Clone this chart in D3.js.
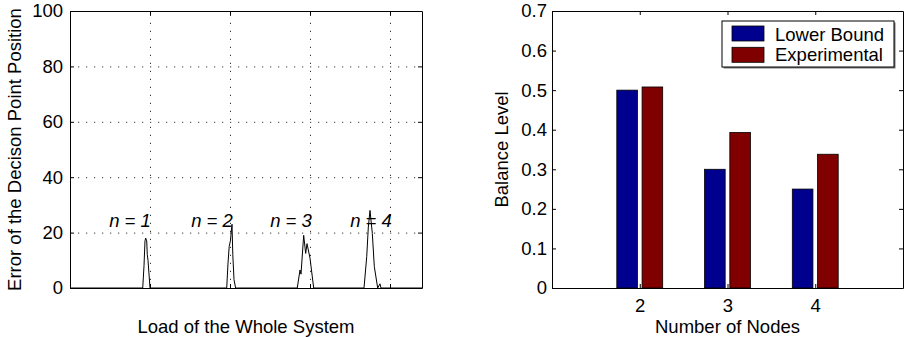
<!DOCTYPE html>
<html lang="en">
<head>
<meta charset="utf-8">
<script src="https://cdnjs.cloudflare.com/ajax/libs/d3/7.8.5/d3.min.js"></script>
<style>
    body { margin: 0; background: #fff; }
    svg text { font-family: "Liberation Sans", Arial, Helvetica, sans-serif; font-size: 18.5px; fill: #000; }
    .grid line { stroke: #000; stroke-dasharray: 1.2, 6.8; stroke-opacity: 0.8; }
    .grid path { display: none; }
    .frame path, .frame line { stroke: #000; }
</style>
</head>
<body>
<svg id="chart" width="906" height="337"></svg>
<script>
// ---- left panel: error of the decision point vs load ----
var loadValues = [0, 0.909, 0.925, 0.9375, 0.946, 0.959, 0.966, 0.975, 1.0,
                  1.959, 1.975, 1.99, 2.005, 2.025, 2.035, 2.05, 2.07, 2.096,
                  2.841, 2.875, 2.8875, 2.921, 2.946, 2.9625, 3.0, 3.046,
                  3.675, 3.709, 3.729, 3.75, 3.779, 3.804, 3.846, 3.875, 3.8875, 4.4];
var errorValues = [0, 0, 8, 17, 18, 17, 12, 10, 0,
                   0, 9, 15, 17, 23, 12, 3, 0, 0,
                   0, 6.5, 5, 19, 12.5, 16, 10.8, 0,
                   0, 11.3, 22, 28, 19.7, 7.7, 0, 1.5, 0, 0];
var peakLabels = ["n = 1", "n = 2", "n = 3", "n = 4"];
var peakLabelLoad = [0.75, 1.775, 2.7625, 3.7625];
var loadTicks = [1, 2, 3, 4];
var errorTicks = [0, 20, 40, 60, 80, 100];

// ---- right panel: balance level vs number of nodes ----
var nodes = [2, 3, 4];
var lowerBound = [0.5, 0.3, 0.25];
var experimental = [0.508, 0.393, 0.338];
var seriesNames = ["Lower Bound", "Experimental"];
var seriesColors = ["#00008f", "#800000"];
var balanceTicks = [0, 0.1, 0.2, 0.3, 0.4, 0.5, 0.6, 0.7];

var svg = d3.select("#chart");
var top_ = 11, bottom = 288;
var tick = 4;

// ========== left panel ==========
var xL = d3.scaleLinear().domain([0, 4.4]).range([70, 422]);
var yL = d3.scaleLinear().domain([0, 100]).range([bottom, top_]);
var left = svg.append("g");

// dotted grid
left.append("g").attr("class", "grid")
    .attr("transform", "translate(0," + bottom + ")")
    .call(d3.axisBottom(xL).tickValues(loadTicks).tickSize(-(bottom - top_)).tickFormat(""));
left.append("g").attr("class", "grid")
    .attr("transform", "translate(70,0)")
    .call(d3.axisLeft(yL).tickValues(errorTicks.slice(1, -1)).tickSize(-(422 - 70)).tickFormat(""));

// curve
var line = d3.line().x(function(d, i) { return xL(loadValues[i]); })
                    .y(function(d) { return yL(d); });
left.append("path")
    .datum(errorValues)
    .attr("d", line)
    .attr("fill", "none")
    .attr("stroke", "#000")
    .attr("stroke-width", 1);

// n labels
left.selectAll(".nlab").data(peakLabels).enter()
    .append("text").attr("class", "nlab")
    .attr("x", function(d, i) { return xL(peakLabelLoad[i]); })
    .attr("y", yL(22))
    .attr("text-anchor", "middle")
    .style("font-style", "italic")
    .text(function(d) { return d; });

// box + ticks
left.append("g").attr("class", "frame")
    .attr("transform", "translate(0," + bottom + ")")
    .call(d3.axisBottom(xL).tickValues(loadTicks).tickSizeInner(-tick).tickSizeOuter(0).tickFormat(""));
left.append("g").attr("class", "frame")
    .attr("transform", "translate(0," + top_ + ")")
    .call(d3.axisTop(xL).tickValues(loadTicks).tickSizeInner(-tick).tickSizeOuter(0).tickFormat(""));
left.append("g").attr("class", "frame")
    .attr("transform", "translate(70,0)")
    .call(d3.axisLeft(yL).tickValues(errorTicks).tickSizeInner(-tick).tickSizeOuter(0).tickPadding(7));
left.append("g").attr("class", "frame")
    .attr("transform", "translate(422,0)")
    .call(d3.axisRight(yL).tickValues(errorTicks).tickSizeInner(-tick).tickSizeOuter(0).tickFormat(""));

left.append("text")
    .attr("transform", "translate(21," + ((top_ + bottom) / 2) + ") rotate(-90)")
    .attr("text-anchor", "middle")
    .text("Error of the Decison Point Position");
left.append("text")
    .attr("x", (70 + 422) / 2).attr("y", 333)
    .attr("text-anchor", "middle")
    .text("Load of the Whole System");

// ========== right panel ==========
var xR = d3.scaleLinear().domain([1, 5]).range([552, 903]);
var yR = d3.scaleLinear().domain([0, 0.7]).range([bottom, top_]);
var right = svg.append("g");
var barW = 0.235, offs = [-0.144, 0.144];

[lowerBound, experimental].forEach(function(vals, s) {
    right.append("g").selectAll("rect").data(vals).enter()
        .append("rect")
        .attr("x", function(d, i) { return xR(nodes[i] + offs[s] - barW / 2); })
        .attr("width", xR(1 + barW) - xR(1))
        .attr("y", function(d) { return yR(d); })
        .attr("height", function(d) { return yR(0) - yR(d); })
        .attr("fill", seriesColors[s])
        .attr("stroke", "#000")
        .attr("stroke-width", 0.8);
});

right.append("g").attr("class", "frame")
    .attr("transform", "translate(0," + bottom + ")")
    .call(d3.axisBottom(xR).tickValues(nodes).tickSizeInner(-tick).tickSizeOuter(0).tickPadding(11)
          .tickFormat(d3.format("d")));
right.append("g").attr("class", "frame")
    .attr("transform", "translate(0," + top_ + ")")
    .call(d3.axisTop(xR).tickValues(nodes).tickSizeInner(-tick).tickSizeOuter(0).tickFormat(""));
right.append("g").attr("class", "frame")
    .attr("transform", "translate(552,0)")
    .call(d3.axisLeft(yR).tickValues(balanceTicks).tickSizeInner(-tick).tickSizeOuter(0).tickPadding(5)
          .tickFormat(function(d) { return d === 0 ? "0" : d3.format(".1f")(d); }));
right.append("g").attr("class", "frame")
    .attr("transform", "translate(903,0)")
    .call(d3.axisRight(yR).tickValues(balanceTicks).tickSizeInner(-tick).tickSizeOuter(0).tickFormat(""));

right.append("text")
    .attr("transform", "translate(508," + ((top_ + bottom) / 2) + ") rotate(-90)")
    .attr("text-anchor", "middle")
    .text("Balance Level");
right.append("text")
    .attr("x", (552 + 903) / 2).attr("y", 333)
    .attr("text-anchor", "middle")
    .text("Number of Nodes");

// legend
var legend = right.append("g").attr("transform", "translate(722,21)");
legend.append("rect").attr("x", 1.5).attr("y", 1.5).attr("width", 172).attr("height", 46).attr("fill", "#777");
legend.append("rect").attr("width", 172).attr("height", 46)
    .attr("fill", "#fff").attr("stroke", "#000").attr("stroke-width", 1);
seriesNames.forEach(function(name, s) {
    legend.append("rect")
        .attr("x", 10).attr("y", 5 + s * 21.3)
        .attr("width", 32).attr("height", 15)
        .attr("fill", seriesColors[s]).attr("stroke", "#000").attr("stroke-width", 0.8);
    legend.append("text")
        .attr("x", 53).attr("y", 19.5 + s * 20.5)
        .text(name);
});
</script>
</body>
</html>
